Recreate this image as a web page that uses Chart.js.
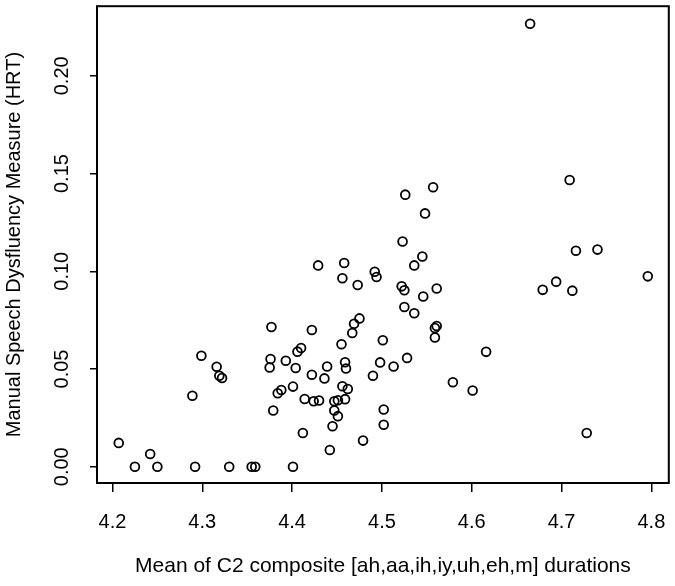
<!DOCTYPE html>
<html>
<head>
<meta charset="utf-8">
<script src="https://cdn.jsdelivr.net/npm/chart.js@4/dist/chart.umd.min.js"></script>
<style>
  html, body { margin: 0; padding: 0; background: #fff; }
  #wrap { width: 675px; height: 586px; }
</style>
</head>
<body>
<div id="wrap"><canvas id="plot"></canvas></div>
<script>
// C2 composite duration mean (x) vs manual dysfluency measure HRT (y)
const durationMean = [
  4.207, 4.225, 4.242, 4.250, 4.289, 4.292, 4.299, 4.316, 4.319, 4.322,
  4.330, 4.355, 4.359, 4.375, 4.376, 4.377, 4.379, 4.384, 4.388, 4.393,
  4.401, 4.401, 4.404, 4.406, 4.410, 4.412, 4.414, 4.422, 4.422, 4.424,
  4.429, 4.430, 4.436, 4.439, 4.442, 4.445, 4.447, 4.447, 4.451, 4.451,
  4.455, 4.456, 4.456, 4.458, 4.459, 4.459, 4.460, 4.462, 4.467, 4.469,
  4.473, 4.475, 4.479, 4.490, 4.492, 4.494, 4.498, 4.501, 4.502, 4.502,
  4.513, 4.522, 4.523, 4.525, 4.525, 4.526, 4.528, 4.536, 4.536, 4.545,
  4.546, 4.548, 4.557, 4.559, 4.559, 4.561, 4.561, 4.579, 4.601, 4.616,
  4.665, 4.679, 4.694, 4.709, 4.712, 4.716, 4.728, 4.740, 4.796
];
const dysfluencyHRT = [
  0.0122, 0.0000, 0.0065, 0.0000, 0.0363, 0.0000, 0.0568, 0.0512, 0.0466, 0.0454,
  0.0000, 0.0000, 0.0000, 0.0508, 0.0551, 0.0715, 0.0288, 0.0376, 0.0393, 0.0542,
  0.0410, 0.0000, 0.0505, 0.0589, 0.0607, 0.0173, 0.0347, 0.0700, 0.0471, 0.0335,
  0.1030, 0.0339, 0.0452, 0.0513, 0.0086, 0.0207, 0.0335, 0.0288, 0.0340, 0.0259,
  0.0627, 0.0964, 0.0412, 0.1042, 0.0535, 0.0346, 0.0503, 0.0398, 0.0684, 0.0732,
  0.0930, 0.0759, 0.0134, 0.0466, 0.0998, 0.0971, 0.0534, 0.0647, 0.0293, 0.0215,
  0.0513, 0.0923, 0.1152, 0.0903, 0.0817, 0.1392, 0.0557, 0.0785, 0.1030, 0.1076,
  0.0871, 0.1296, 0.1430, 0.0661, 0.0710, 0.0720, 0.0912, 0.0432, 0.0390, 0.0588,
  0.2266, 0.0905, 0.0947, 0.1467, 0.0901, 0.1105, 0.0173, 0.1111, 0.0974
];
const xTicks = [4.2, 4.3, 4.4, 4.5, 4.6, 4.7, 4.8];
const yTicks = [0.00, 0.05, 0.10, 0.15, 0.20];

const points = durationMean.map((x, i) => ({ x: x, y: dysfluencyHRT[i] }));

Chart.defaults.font.family = "'Liberation Sans', Arial, sans-serif";
Chart.defaults.font.size = 20;
Chart.defaults.color = '#000';

// R style box around the plot region
const boxFrame = {
  id: 'boxFrame',
  afterDraw(chart) {
    const a = chart.chartArea;
    const ctx = chart.ctx;
    ctx.save();
    ctx.strokeStyle = '#000';
    ctx.lineWidth = 2;
    ctx.strokeRect(a.left, a.top, a.right - a.left, a.bottom - a.top);
    ctx.restore();
  }
};

new Chart(document.getElementById('plot'), {
  type: 'scatter',
  data: {
    datasets: [{
      data: points,
      pointStyle: 'circle',
      pointRadius: 4.4,
      pointHoverRadius: 4.4,
      borderWidth: 1.8,
      borderColor: '#000',
      backgroundColor: 'rgba(0,0,0,0)'
    }]
  },
  options: {
    responsive: true,
    maintainAspectRatio: false,
    animation: false,
    layout: { padding: { top: 3, right: 5, left: 0, bottom: 0 } },
    plugins: { legend: { display: false }, tooltip: { enabled: false } },
    scales: {
      x: {
        type: 'linear',
        min: 4.1828,
        max: 4.8194,
        afterBuildTicks: s => { s.ticks = xTicks.map(v => ({ value: v })); },
        afterFit: s => { s.height = 103; s.paddingLeft = 0; s.paddingRight = 0; },
        border: { display: false },
        grid: { drawOnChartArea: false, drawTicks: true, tickLength: 9, color: '#000', lineWidth: 1.5 },
        ticks: { padding: 18, maxRotation: 0, callback: v => v.toFixed(1) },
        title: {
          display: true,
          text: 'Mean of C2 composite [ah,aa,ih,iy,uh,eh,m] durations',
          font: { size: 21 },
          padding: { top: 0, bottom: 7 }
        }
      },
      y: {
        type: 'linear',
        min: -0.0083,
        max: 0.2356,
        afterBuildTicks: s => { s.ticks = yTicks.map(v => ({ value: v })); },
        afterFit: s => { s.width = 97; s.paddingTop = 0; s.paddingBottom = 0; },
        border: { display: false },
        grid: { drawOnChartArea: false, drawTicks: true, tickLength: 7, color: '#000', lineWidth: 1.5 },
        ticks: { padding: 8, minRotation: 90, maxRotation: 90, crossAlign: 'center', callback: v => v.toFixed(2) },
        title: {
          display: true,
          text: 'Manual Speech Dysfluency Measure (HRT)',
          padding: { top: 2, bottom: 0 }
        }
      }
    }
  },
  plugins: [boxFrame]
});
</script>
</body>
</html>
